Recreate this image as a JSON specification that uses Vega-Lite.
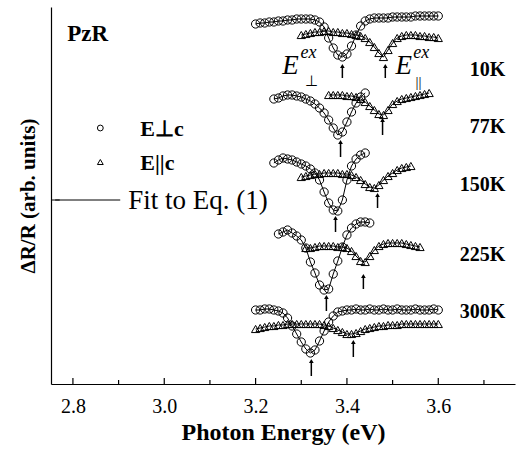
{
"$schema": "https://vega.github.io/schema/vega-lite/v6.json",
"width": 464, "height": 377,
"autosize": {"type": "none"},
"padding": {"left": 51, "top": 7, "right": 1, "bottom": 65},
"background": "white",
"config": {"view": {"stroke": null}, "font": "Liberation Serif", "axis": {"grid": false}},
"datasets": {
"pts": [
{"T":"10K","s":"perp","x":3.20,"y":376},{"T":"10K","s":"perp","x":3.21,"y":377},{"T":"10K","s":"perp","x":3.22,"y":377},{"T":"10K","s":"perp","x":3.23,"y":378},{"T":"10K","s":"perp","x":3.24,"y":378},{"T":"10K","s":"perp","x":3.25,"y":379},{"T":"10K","s":"perp","x":3.26,"y":379},{"T":"10K","s":"perp","x":3.27,"y":380},{"T":"10K","s":"perp","x":3.28,"y":380},{"T":"10K","s":"perp","x":3.29,"y":381},{"T":"10K","s":"perp","x":3.30,"y":381},{"T":"10K","s":"perp","x":3.31,"y":381},{"T":"10K","s":"perp","x":3.32,"y":381},{"T":"10K","s":"perp","x":3.33,"y":380},{"T":"10K","s":"perp","x":3.34,"y":378},{"T":"10K","s":"perp","x":3.35,"y":373},{"T":"10K","s":"perp","x":3.36,"y":362},{"T":"10K","s":"perp","x":3.37,"y":352},{"T":"10K","s":"perp","x":3.38,"y":345},{"T":"10K","s":"perp","x":3.39,"y":343},{"T":"10K","s":"perp","x":3.40,"y":346},{"T":"10K","s":"perp","x":3.41,"y":354},{"T":"10K","s":"perp","x":3.42,"y":365},{"T":"10K","s":"perp","x":3.43,"y":374},{"T":"10K","s":"perp","x":3.44,"y":379},{"T":"10K","s":"perp","x":3.45,"y":381},{"T":"10K","s":"perp","x":3.46,"y":382},{"T":"10K","s":"perp","x":3.47,"y":382},{"T":"10K","s":"perp","x":3.48,"y":382},{"T":"10K","s":"perp","x":3.49,"y":382},{"T":"10K","s":"perp","x":3.50,"y":383},{"T":"10K","s":"perp","x":3.51,"y":383},{"T":"10K","s":"perp","x":3.52,"y":383},{"T":"10K","s":"perp","x":3.53,"y":383},{"T":"10K","s":"perp","x":3.54,"y":383},{"T":"10K","s":"perp","x":3.55,"y":384},{"T":"10K","s":"perp","x":3.56,"y":384},{"T":"10K","s":"perp","x":3.57,"y":384},{"T":"10K","s":"perp","x":3.58,"y":384},{"T":"10K","s":"perp","x":3.59,"y":384},{"T":"10K","s":"perp","x":3.60,"y":384},
{"T":"10K","s":"par","x":3.30,"y":365},{"T":"10K","s":"par","x":3.31,"y":366},{"T":"10K","s":"par","x":3.32,"y":367},{"T":"10K","s":"par","x":3.33,"y":368},{"T":"10K","s":"par","x":3.34,"y":368},{"T":"10K","s":"par","x":3.35,"y":369},{"T":"10K","s":"par","x":3.36,"y":369},{"T":"10K","s":"par","x":3.37,"y":368},{"T":"10K","s":"par","x":3.38,"y":368},{"T":"10K","s":"par","x":3.39,"y":367},{"T":"10K","s":"par","x":3.40,"y":367},{"T":"10K","s":"par","x":3.41,"y":366},{"T":"10K","s":"par","x":3.42,"y":365},{"T":"10K","s":"par","x":3.43,"y":364},{"T":"10K","s":"par","x":3.44,"y":362},{"T":"10K","s":"par","x":3.45,"y":358},{"T":"10K","s":"par","x":3.46,"y":353},{"T":"10K","s":"par","x":3.47,"y":347},{"T":"10K","s":"par","x":3.48,"y":343},{"T":"10K","s":"par","x":3.49,"y":350},{"T":"10K","s":"par","x":3.50,"y":357},{"T":"10K","s":"par","x":3.51,"y":362},{"T":"10K","s":"par","x":3.52,"y":364},{"T":"10K","s":"par","x":3.53,"y":365},{"T":"10K","s":"par","x":3.54,"y":365},{"T":"10K","s":"par","x":3.55,"y":365},{"T":"10K","s":"par","x":3.56,"y":364},{"T":"10K","s":"par","x":3.57,"y":364},{"T":"10K","s":"par","x":3.58,"y":363},{"T":"10K","s":"par","x":3.59,"y":363},{"T":"10K","s":"par","x":3.60,"y":362},
{"T":"77K","s":"perp","x":3.24,"y":301},{"T":"77K","s":"perp","x":3.25,"y":302},{"T":"77K","s":"perp","x":3.26,"y":304},{"T":"77K","s":"perp","x":3.27,"y":305},{"T":"77K","s":"perp","x":3.28,"y":305},{"T":"77K","s":"perp","x":3.29,"y":304},{"T":"77K","s":"perp","x":3.30,"y":303},{"T":"77K","s":"perp","x":3.31,"y":301},{"T":"77K","s":"perp","x":3.32,"y":299},{"T":"77K","s":"perp","x":3.33,"y":296},{"T":"77K","s":"perp","x":3.34,"y":292},{"T":"77K","s":"perp","x":3.35,"y":287},{"T":"77K","s":"perp","x":3.36,"y":280},{"T":"77K","s":"perp","x":3.37,"y":272},{"T":"77K","s":"perp","x":3.38,"y":265},{"T":"77K","s":"perp","x":3.39,"y":268},{"T":"77K","s":"perp","x":3.40,"y":278},{"T":"77K","s":"perp","x":3.41,"y":288},{"T":"77K","s":"perp","x":3.42,"y":297},{"T":"77K","s":"perp","x":3.43,"y":303},{"T":"77K","s":"perp","x":3.44,"y":307},
{"T":"77K","s":"par","x":3.36,"y":305},{"T":"77K","s":"par","x":3.37,"y":305},{"T":"77K","s":"par","x":3.38,"y":305},{"T":"77K","s":"par","x":3.39,"y":305},{"T":"77K","s":"par","x":3.40,"y":304},{"T":"77K","s":"par","x":3.41,"y":304},{"T":"77K","s":"par","x":3.42,"y":303},{"T":"77K","s":"par","x":3.43,"y":301},{"T":"77K","s":"par","x":3.44,"y":298},{"T":"77K","s":"par","x":3.45,"y":294},{"T":"77K","s":"par","x":3.46,"y":290},{"T":"77K","s":"par","x":3.47,"y":286},{"T":"77K","s":"par","x":3.48,"y":285},{"T":"77K","s":"par","x":3.49,"y":290},{"T":"77K","s":"par","x":3.50,"y":296},{"T":"77K","s":"par","x":3.51,"y":299},{"T":"77K","s":"par","x":3.52,"y":301},{"T":"77K","s":"par","x":3.53,"y":302},{"T":"77K","s":"par","x":3.54,"y":303},{"T":"77K","s":"par","x":3.55,"y":304},{"T":"77K","s":"par","x":3.56,"y":305},{"T":"77K","s":"par","x":3.57,"y":306},{"T":"77K","s":"par","x":3.58,"y":307},
{"T":"150K","s":"perp","x":3.24,"y":237},{"T":"150K","s":"perp","x":3.25,"y":240},{"T":"150K","s":"perp","x":3.26,"y":242},{"T":"150K","s":"perp","x":3.27,"y":241},{"T":"150K","s":"perp","x":3.28,"y":240},{"T":"150K","s":"perp","x":3.29,"y":238},{"T":"150K","s":"perp","x":3.30,"y":236},{"T":"150K","s":"perp","x":3.31,"y":234},{"T":"150K","s":"perp","x":3.32,"y":231},{"T":"150K","s":"perp","x":3.33,"y":227},{"T":"150K","s":"perp","x":3.34,"y":220},{"T":"150K","s":"perp","x":3.35,"y":208},{"T":"150K","s":"perp","x":3.36,"y":197},{"T":"150K","s":"perp","x":3.37,"y":190},{"T":"150K","s":"perp","x":3.38,"y":189},{"T":"150K","s":"perp","x":3.39,"y":200},{"T":"150K","s":"perp","x":3.40,"y":220},{"T":"150K","s":"perp","x":3.41,"y":234},{"T":"150K","s":"perp","x":3.42,"y":241},{"T":"150K","s":"perp","x":3.43,"y":245},{"T":"150K","s":"perp","x":3.44,"y":247},
{"T":"150K","s":"par","x":3.30,"y":223},{"T":"150K","s":"par","x":3.31,"y":224},{"T":"150K","s":"par","x":3.32,"y":225},{"T":"150K","s":"par","x":3.33,"y":226},{"T":"150K","s":"par","x":3.34,"y":226},{"T":"150K","s":"par","x":3.35,"y":227},{"T":"150K","s":"par","x":3.36,"y":227},{"T":"150K","s":"par","x":3.37,"y":227},{"T":"150K","s":"par","x":3.38,"y":227},{"T":"150K","s":"par","x":3.39,"y":226},{"T":"150K","s":"par","x":3.40,"y":226},{"T":"150K","s":"par","x":3.41,"y":225},{"T":"150K","s":"par","x":3.42,"y":223},{"T":"150K","s":"par","x":3.43,"y":220},{"T":"150K","s":"par","x":3.44,"y":216},{"T":"150K","s":"par","x":3.45,"y":213},{"T":"150K","s":"par","x":3.46,"y":212},{"T":"150K","s":"par","x":3.47,"y":215},{"T":"150K","s":"par","x":3.48,"y":220},{"T":"150K","s":"par","x":3.49,"y":224},{"T":"150K","s":"par","x":3.50,"y":227},{"T":"150K","s":"par","x":3.51,"y":230},{"T":"150K","s":"par","x":3.52,"y":232},{"T":"150K","s":"par","x":3.53,"y":233},{"T":"150K","s":"par","x":3.54,"y":234},
{"T":"225K","s":"perp","x":3.25,"y":166},{"T":"225K","s":"perp","x":3.26,"y":168},{"T":"225K","s":"perp","x":3.27,"y":170},{"T":"225K","s":"perp","x":3.28,"y":167},{"T":"225K","s":"perp","x":3.29,"y":164},{"T":"225K","s":"perp","x":3.30,"y":160},{"T":"225K","s":"perp","x":3.31,"y":152},{"T":"225K","s":"perp","x":3.32,"y":138},{"T":"225K","s":"perp","x":3.33,"y":127},{"T":"225K","s":"perp","x":3.34,"y":115},{"T":"225K","s":"perp","x":3.35,"y":110},{"T":"225K","s":"perp","x":3.36,"y":111},{"T":"225K","s":"perp","x":3.37,"y":126},{"T":"225K","s":"perp","x":3.38,"y":139},{"T":"225K","s":"perp","x":3.39,"y":153},{"T":"225K","s":"perp","x":3.40,"y":165},{"T":"225K","s":"perp","x":3.41,"y":172},{"T":"225K","s":"perp","x":3.42,"y":176},{"T":"225K","s":"perp","x":3.43,"y":178},{"T":"225K","s":"perp","x":3.44,"y":178},{"T":"225K","s":"perp","x":3.45,"y":177},
{"T":"225K","s":"par","x":3.31,"y":152},{"T":"225K","s":"par","x":3.32,"y":152},{"T":"225K","s":"par","x":3.33,"y":153},{"T":"225K","s":"par","x":3.34,"y":154},{"T":"225K","s":"par","x":3.35,"y":154},{"T":"225K","s":"par","x":3.36,"y":154},{"T":"225K","s":"par","x":3.37,"y":154},{"T":"225K","s":"par","x":3.38,"y":153},{"T":"225K","s":"par","x":3.39,"y":153},{"T":"225K","s":"par","x":3.40,"y":152},{"T":"225K","s":"par","x":3.41,"y":149},{"T":"225K","s":"par","x":3.42,"y":144},{"T":"225K","s":"par","x":3.43,"y":139},{"T":"225K","s":"par","x":3.44,"y":138},{"T":"225K","s":"par","x":3.45,"y":144},{"T":"225K","s":"par","x":3.46,"y":150},{"T":"225K","s":"par","x":3.47,"y":154},{"T":"225K","s":"par","x":3.48,"y":156},{"T":"225K","s":"par","x":3.49,"y":157},{"T":"225K","s":"par","x":3.50,"y":157},{"T":"225K","s":"par","x":3.51,"y":157},{"T":"225K","s":"par","x":3.52,"y":157},{"T":"225K","s":"par","x":3.53,"y":156},{"T":"225K","s":"par","x":3.54,"y":155},{"T":"225K","s":"par","x":3.55,"y":154},{"T":"225K","s":"par","x":3.56,"y":153},
{"T":"300K","s":"perp","x":3.20,"y":90},{"T":"300K","s":"perp","x":3.21,"y":90},{"T":"300K","s":"perp","x":3.22,"y":91},{"T":"300K","s":"perp","x":3.23,"y":91},{"T":"300K","s":"perp","x":3.24,"y":90},{"T":"300K","s":"perp","x":3.25,"y":89},{"T":"300K","s":"perp","x":3.26,"y":87},{"T":"300K","s":"perp","x":3.27,"y":82},{"T":"300K","s":"perp","x":3.28,"y":74},{"T":"300K","s":"perp","x":3.29,"y":66},{"T":"300K","s":"perp","x":3.30,"y":58},{"T":"300K","s":"perp","x":3.31,"y":51},{"T":"300K","s":"perp","x":3.32,"y":47},{"T":"300K","s":"perp","x":3.33,"y":50},{"T":"300K","s":"perp","x":3.34,"y":59},{"T":"300K","s":"perp","x":3.35,"y":69},{"T":"300K","s":"perp","x":3.36,"y":78},{"T":"300K","s":"perp","x":3.37,"y":84},{"T":"300K","s":"perp","x":3.38,"y":88},{"T":"300K","s":"perp","x":3.39,"y":89},{"T":"300K","s":"perp","x":3.40,"y":90},{"T":"300K","s":"perp","x":3.41,"y":90},{"T":"300K","s":"perp","x":3.42,"y":91},{"T":"300K","s":"perp","x":3.43,"y":90},{"T":"300K","s":"perp","x":3.44,"y":90},{"T":"300K","s":"perp","x":3.45,"y":91},{"T":"300K","s":"perp","x":3.46,"y":90},{"T":"300K","s":"perp","x":3.47,"y":90},{"T":"300K","s":"perp","x":3.48,"y":91},{"T":"300K","s":"perp","x":3.49,"y":90},{"T":"300K","s":"perp","x":3.50,"y":90},{"T":"300K","s":"perp","x":3.51,"y":91},{"T":"300K","s":"perp","x":3.52,"y":90},{"T":"300K","s":"perp","x":3.53,"y":90},{"T":"300K","s":"perp","x":3.54,"y":90},{"T":"300K","s":"perp","x":3.55,"y":91},{"T":"300K","s":"perp","x":3.56,"y":90},{"T":"300K","s":"perp","x":3.57,"y":90},{"T":"300K","s":"perp","x":3.58,"y":90},{"T":"300K","s":"perp","x":3.59,"y":91},{"T":"300K","s":"perp","x":3.60,"y":90},
{"T":"300K","s":"par","x":3.20,"y":71},{"T":"300K","s":"par","x":3.21,"y":72},{"T":"300K","s":"par","x":3.22,"y":73},{"T":"300K","s":"par","x":3.23,"y":74},{"T":"300K","s":"par","x":3.24,"y":74},{"T":"300K","s":"par","x":3.25,"y":75},{"T":"300K","s":"par","x":3.26,"y":75},{"T":"300K","s":"par","x":3.27,"y":76},{"T":"300K","s":"par","x":3.28,"y":76},{"T":"300K","s":"par","x":3.29,"y":76},{"T":"300K","s":"par","x":3.30,"y":76},{"T":"300K","s":"par","x":3.31,"y":76},{"T":"300K","s":"par","x":3.32,"y":76},{"T":"300K","s":"par","x":3.33,"y":76},{"T":"300K","s":"par","x":3.34,"y":76},{"T":"300K","s":"par","x":3.35,"y":75},{"T":"300K","s":"par","x":3.36,"y":74},{"T":"300K","s":"par","x":3.37,"y":72},{"T":"300K","s":"par","x":3.38,"y":70},{"T":"300K","s":"par","x":3.39,"y":68},{"T":"300K","s":"par","x":3.40,"y":66},{"T":"300K","s":"par","x":3.41,"y":66},{"T":"300K","s":"par","x":3.42,"y":67},{"T":"300K","s":"par","x":3.43,"y":69},{"T":"300K","s":"par","x":3.44,"y":71},{"T":"300K","s":"par","x":3.45,"y":72},{"T":"300K","s":"par","x":3.46,"y":73},{"T":"300K","s":"par","x":3.47,"y":74},{"T":"300K","s":"par","x":3.48,"y":74},{"T":"300K","s":"par","x":3.49,"y":75},{"T":"300K","s":"par","x":3.50,"y":75},{"T":"300K","s":"par","x":3.51,"y":75},{"T":"300K","s":"par","x":3.52,"y":76},{"T":"300K","s":"par","x":3.53,"y":76},{"T":"300K","s":"par","x":3.54,"y":76},{"T":"300K","s":"par","x":3.55,"y":76},{"T":"300K","s":"par","x":3.56,"y":76},{"T":"300K","s":"par","x":3.57,"y":76},{"T":"300K","s":"par","x":3.58,"y":76},{"T":"300K","s":"par","x":3.59,"y":76},{"T":"300K","s":"par","x":3.60,"y":76}
],
"arrows": [
{"x":3.39,"top":334,"bot":322},
{"x":3.484,"top":334,"bot":322},
{"x":3.386,"top":258,"bot":243},
{"x":3.478,"top":280,"bot":265},
{"x":3.375,"top":182,"bot":168},
{"x":3.467,"top":205,"bot":192},
{"x":3.355,"top":103,"bot":89},
{"x":3.436,"top":124,"bot":111},
{"x":3.322,"top":39,"bot":24},
{"x":3.414,"top":58,"bot":43}
],
"xticks": [
{"x":2.8,"y":16,"y2":22},{"x":2.9,"y":16,"y2":20},{"x":3.0,"y":16,"y2":22},{"x":3.1,"y":16,"y2":20},{"x":3.2,"y":16,"y2":22},{"x":3.3,"y":16,"y2":20},{"x":3.4,"y":16,"y2":22},{"x":3.5,"y":16,"y2":20},{"x":3.6,"y":16,"y2":22},{"x":3.7,"y":16,"y2":20}
],
"yticks": [
{"x":2.752,"x2":2.771,"y":200}
],
"labels": [
{"role":"temp","t":"10K","x":3.747,"y":330},
{"role":"temp","t":"77K","x":3.747,"y":273},
{"role":"temp","t":"150K","x":3.747,"y":215},
{"role":"temp","t":"225K","x":3.747,"y":145},
{"role":"temp","t":"300K","x":3.747,"y":88},
{"role":"pzr","t":"PzR","x":2.7875,"y":366},
{"role":"leg","t":"E⊥c","x":2.9475,"y":271},
{"role":"leg","t":"E||c","x":2.9475,"y":237},
{"role":"fit","t":"Fit to Eq. (1)","x":2.9212,"y":199},
{"role":"E","t":"E","x":3.2585,"y":334},
{"role":"E","t":"E","x":3.5065,"y":334},
{"role":"sup","t":"ex","x":3.2983,"y":347},
{"role":"sup","t":"ex","x":3.5454,"y":347},
{"role":"sub","t":"⊥","x":3.3225,"y":319},
{"role":"sub","t":"||","x":3.5565,"y":318}
],
"legsym": [
{"s":"perp","x":2.86,"y":272},
{"s":"par","x":2.86,"y":238}
],
"legline": [
{"x":2.7612,"x2":2.9036,"y":200}
]
},
"layer": [
{
"data": {"name": "pts"},
"mark": {"type": "line", "color": "black", "strokeWidth": 1},
"encoding": {
"x": {"field": "x", "type": "quantitative", "scale": {"domain": [2.752, 3.768], "nice": false, "zero": false},
"axis": {"orient": "bottom", "values": [2.8,3.0,3.2,3.4,3.6], "format": ".1f", "ticks": false,
"domainColor": "black", "domainWidth": 1.2,
"labelFontSize": 20, "labelColor": "black", "labelPadding": 12,
"title": "Photon Energy (eV)", "titleFontSize": 24, "titleFontWeight": "bold", "titleColor": "black", "titlePadding": 4}},
"y": {"field": "y", "type": "quantitative", "scale": {"domain": [16, 393], "nice": false, "zero": false},
"axis": {"orient": "left", "ticks": false, "labels": false, "domainColor": "black", "domainWidth": 1.2,
"title": "ΔR/R (arb. units)", "titleFontSize": 21, "titleFontWeight": "bold", "titleColor": "black", "titlePadding": 13}},
"detail": [{"field": "T"}, {"field": "s"}]
}
},
{
"data": {"name": "pts"},
"mark": {"type": "point", "filled": false, "stroke": "black", "strokeWidth": 1, "size": 68, "opacity": 1},
"encoding": {
"x": {"field": "x", "type": "quantitative"},
"y": {"field": "y", "type": "quantitative"},
"shape": {"field": "s", "type": "nominal", "scale": {"domain": ["perp", "par"], "range": ["circle", "triangle-up"]}, "legend": null}
}
},
{
"mark": {"type": "rule", "color": "black", "strokeWidth": 1.2},
"encoding": {"y": {"datum": 393, "type": "quantitative"}}
},
{
"data": {"name": "xticks"},
"mark": {"type": "rule", "color": "black", "strokeWidth": 1.2},
"encoding": {
"x": {"field": "x", "type": "quantitative"},
"y": {"field": "y", "type": "quantitative"},
"y2": {"field": "y2"}
}
},
{
"data": {"name": "yticks"},
"mark": {"type": "rule", "color": "black", "strokeWidth": 1},
"encoding": {
"x": {"field": "x", "type": "quantitative"},
"x2": {"field": "x2"},
"y": {"field": "y", "type": "quantitative"}
}
},
{
"data": {"name": "arrows"},
"mark": {"type": "rule", "color": "black", "strokeWidth": 1.5},
"encoding": {
"x": {"field": "x", "type": "quantitative"},
"y": {"field": "top", "type": "quantitative"},
"y2": {"field": "bot"}
}
},
{
"data": {"name": "arrows"},
"mark": {"type": "point", "shape": "triangle-up", "filled": true, "color": "black", "size": 22, "opacity": 1},
"encoding": {
"x": {"field": "x", "type": "quantitative"},
"y": {"field": "top", "type": "quantitative"}
}
},
{
"data": {"name": "legsym"},
"mark": {"type": "point", "filled": false, "stroke": "black", "strokeWidth": 1, "size": 34, "opacity": 1},
"encoding": {
"x": {"field": "x", "type": "quantitative"},
"y": {"field": "y", "type": "quantitative"},
"shape": {"field": "s", "type": "nominal", "scale": {"domain": ["perp", "par"], "range": ["circle", "triangle-up"]}, "legend": null}
}
},
{
"data": {"name": "legline"},
"mark": {"type": "rule", "color": "black", "strokeWidth": 1},
"encoding": {
"x": {"field": "x", "type": "quantitative"},
"x2": {"field": "x2"},
"y": {"field": "y", "type": "quantitative"}
}
},
{
"data": {"name": "labels"},
"transform": [{"filter": "datum.role == 'temp'"}],
"mark": {"type": "text", "align": "right", "baseline": "middle", "fontSize": 20, "fontWeight": "bold", "fill": "black"},
"encoding": {"x": {"field": "x", "type": "quantitative"}, "y": {"field": "y", "type": "quantitative"}, "text": {"field": "t"}}
},
{
"data": {"name": "labels"},
"transform": [{"filter": "datum.role == 'pzr'"}],
"mark": {"type": "text", "align": "left", "baseline": "middle", "fontSize": 23, "fontWeight": "bold", "fill": "black"},
"encoding": {"x": {"field": "x", "type": "quantitative"}, "y": {"field": "y", "type": "quantitative"}, "text": {"field": "t"}}
},
{
"data": {"name": "labels"},
"transform": [{"filter": "datum.role == 'leg'"}],
"mark": {"type": "text", "align": "left", "baseline": "middle", "fontSize": 22, "fontWeight": "bold", "fill": "black"},
"encoding": {"x": {"field": "x", "type": "quantitative"}, "y": {"field": "y", "type": "quantitative"}, "text": {"field": "t"}}
},
{
"data": {"name": "labels"},
"transform": [{"filter": "datum.role == 'fit'"}],
"mark": {"type": "text", "align": "left", "baseline": "middle", "fontSize": 27, "fill": "black"},
"encoding": {"x": {"field": "x", "type": "quantitative"}, "y": {"field": "y", "type": "quantitative"}, "text": {"field": "t"}}
},
{
"data": {"name": "labels"},
"transform": [{"filter": "datum.role == 'E'"}],
"mark": {"type": "text", "align": "left", "baseline": "middle", "fontSize": 27, "fontStyle": "italic", "fill": "black"},
"encoding": {"x": {"field": "x", "type": "quantitative"}, "y": {"field": "y", "type": "quantitative"}, "text": {"field": "t"}}
},
{
"data": {"name": "labels"},
"transform": [{"filter": "datum.role == 'sup'"}],
"mark": {"type": "text", "align": "left", "baseline": "middle", "fontSize": 18, "fontStyle": "italic", "fill": "black"},
"encoding": {"x": {"field": "x", "type": "quantitative"}, "y": {"field": "y", "type": "quantitative"}, "text": {"field": "t"}}
},
{
"data": {"name": "labels"},
"transform": [{"filter": "datum.role == 'sub'"}],
"mark": {"type": "text", "align": "center", "baseline": "middle", "fontSize": 15, "fill": "black"},
"encoding": {"x": {"field": "x", "type": "quantitative"}, "y": {"field": "y", "type": "quantitative"}, "text": {"field": "t"}}
}
]
}
